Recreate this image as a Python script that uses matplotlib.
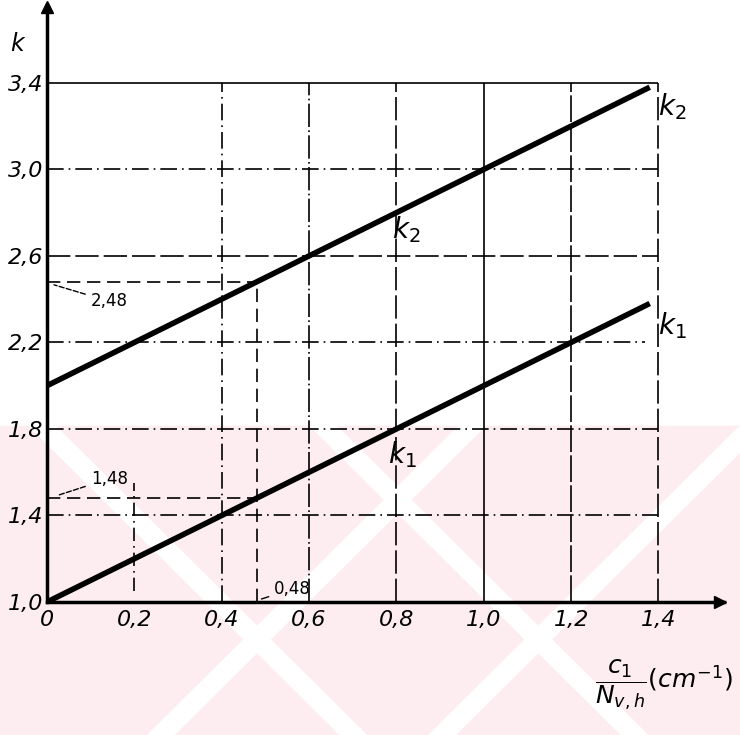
import numpy as np
import matplotlib.pyplot as plt
from matplotlib.patches import Polygon, Rectangle

# data
x_end = [0.0, 1.38]
k1 = [1.0, 2.38]
k2 = [2.0, 3.38]
xticks = [0, 0.2, 0.4, 0.6, 0.8, 1.0, 1.2, 1.4]
xlabels = ["0", "0,2", "0,4", "0,6", "0,8", "1,0", "1,2", "1,4"]
yticks = [1.0, 1.4, 1.8, 2.2, 2.6, 3.0, 3.4]
ylabels = ["1,0", "1,4", "1,8", "2,2", "2,6", "3,0", "3,4"]
x_read = 0.48
k1_read = 1.48
k2_read = 2.48

fig = plt.figure(figsize=(7.4, 7.35), dpi=100)

# faint pink watermark behind the lower half
fig.patches.append(Rectangle((0, 0), 1, 0.42, transform=fig.transFigure,
                             color="#fdedf0", zorder=-10))
w = 0.035
for x0 in [0.04, 0.42]:
    fig.patches.append(Polygon([[x0, 0.42], [x0 + w, 0.42], [x0 + w + 0.42, 0.0], [x0 + 0.42, 0.0]],
                               closed=True, transform=fig.transFigure, color="white", zorder=-9))
for x0 in [0.62, 1.0]:
    fig.patches.append(Polygon([[x0, 0.42], [x0 + w, 0.42], [x0 + w - 0.42, 0.0], [x0 - 0.42, 0.0]],
                               closed=True, transform=fig.transFigure, color="white", zorder=-9))

ax = fig.add_axes([47/740, 1 - 602/735, 677/740, 597/735])
ax.patch.set_alpha(0)
ax.set_xlim(0, 1.55)
ax.set_ylim(1.0, 3.76)

for s in ["top", "right"]:
    ax.spines[s].set_visible(False)
ax.spines["left"].set_linewidth(2.5)
ax.spines["bottom"].set_linewidth(2.5)
ax.plot(1.54, 1.0, marker=">", color="black", markersize=8, clip_on=False)
ax.plot(0.0, 3.75, marker="^", color="black", markersize=8, clip_on=False)

# grid of the nomogram
gs = dict(color="black", linewidth=1.2)
dd = (0, (10, 3, 1, 3))
ax.hlines(3.4, 0, 1.4, linestyles="-", **gs)
ax.hlines(3.0, 0, 1.4, linestyles=dd, **gs)
ax.hlines(2.6, 0, 1.4, linestyles=(0, (14, 3)), **gs)
ax.hlines(2.2, 0, 1.37, linestyles=dd, **gs)
ax.hlines(1.8, 0, 1.4, linestyles=dd, **gs)
ax.hlines(1.4, 0, 1.4, linestyles=dd, **gs)
ax.vlines(0.2, 1.05, 1.55, linestyles=(0, (8, 3, 1, 3)), **gs)
ax.vlines(0.4, 1.0, 3.4, linestyles=dd, **gs)
ax.vlines(0.6, 1.0, 3.4, linestyles=(0, (14, 2, 1, 2)), **gs)
ax.vlines(0.8, 1.0, 3.4, linestyles=(0, (14, 3)), **gs)
ax.vlines(1.0, 1.0, 3.4, linestyles="-", **gs)
ax.vlines(1.2, 1.0, 3.4, linestyles=(0, (16, 2)), **gs)
ax.vlines(1.4, 1.0, 3.4, linestyles=(0, (14, 3)), **gs)

# reading example at 0.48
ds = dict(color="black", linewidth=1.2, linestyles=(0, (8, 4)))
ax.hlines(k2_read, 0, x_read, **ds)
ax.hlines(k1_read, 0, x_read, **ds)
ax.vlines(x_read, 1.0, k2_read, **ds)

# curves
ax.plot(x_end, k1, color="black", linewidth=4, solid_capstyle="butt")
ax.plot(x_end, k2, color="black", linewidth=4, solid_capstyle="butt")

tf = dict(fontsize=16, style="italic", color="black")
ax.set_xticks(xticks)
ax.set_xticklabels(xlabels, **tf)
ax.set_yticks(yticks)
ax.set_yticklabels(ylabels, **tf)
ax.tick_params(axis="x", length=0, pad=6)
ax.tick_params(axis="y", length=0, pad=3)

ax.text(-0.068, 3.58, "k", ha="center", va="center", fontsize=17, style="italic")
ax.text(1.40, 3.29, "$k_2$", fontsize=20, ha="left", va="center")
ax.text(0.79, 2.72, "$k_2$", fontsize=20, ha="left", va="center")
ax.text(1.40, 2.28, "$k_1$", fontsize=20, ha="left", va="center")
ax.text(0.78, 1.68, "$k_1$", fontsize=20, ha="left", va="center")

# value labels with leader lines
ax.annotate("2,48", xy=(0.01, 2.47), xytext=(0.1, 2.39), fontsize=12, va="center",
            arrowprops=dict(arrowstyle="-", color="black", linewidth=1, linestyle="--"))
ax.annotate("1,48", xy=(0.02, 1.49), xytext=(0.1, 1.57), fontsize=12, va="center",
            arrowprops=dict(arrowstyle="-", color="black", linewidth=1, linestyle="--"))
ax.annotate("0,48", xy=(0.485, 1.01), xytext=(0.52, 1.06), fontsize=12, va="center",
            arrowprops=dict(arrowstyle="-", color="black", linewidth=1))

fig.text(664/740, 1 - 685/735, r"$\dfrac{c_1}{N_{v,h}}(cm^{-1})$", fontsize=18,
         ha="center", va="center")

fig.savefig("out.png", dpi=100)
